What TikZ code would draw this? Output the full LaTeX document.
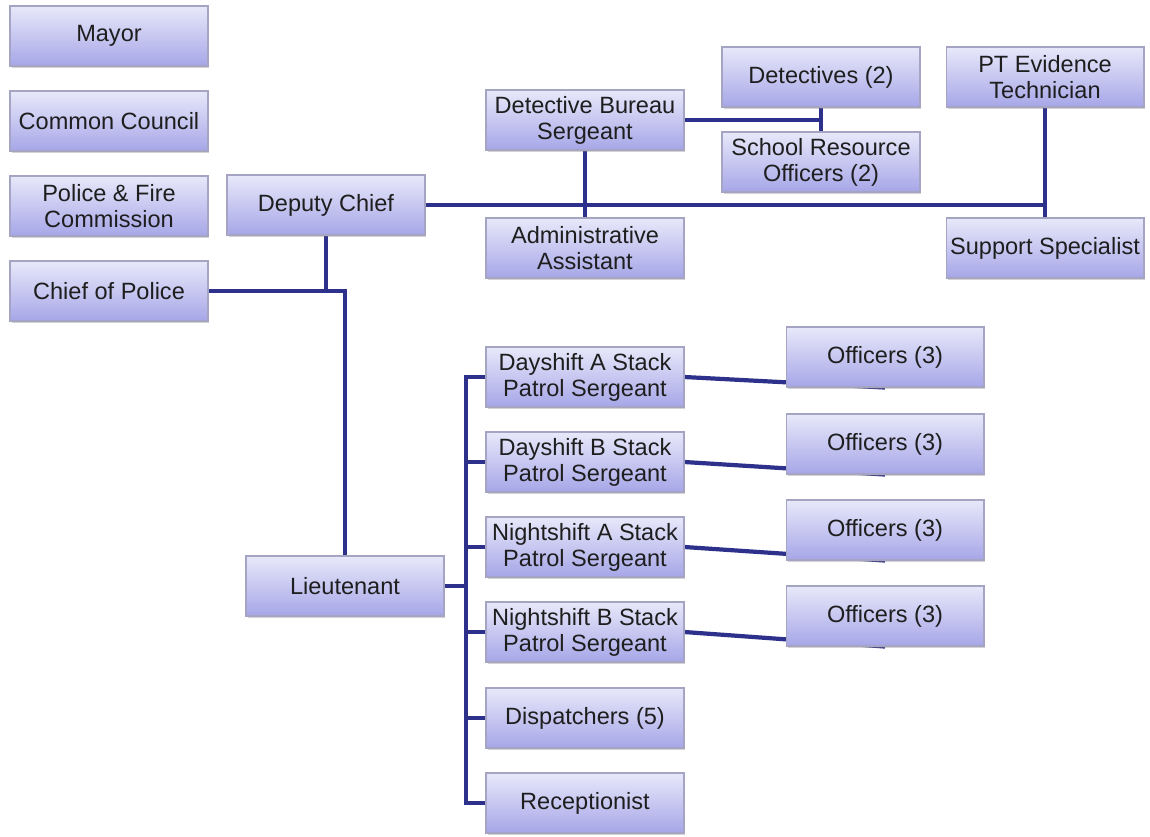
\documentclass[tikz,border=0pt]{standalone}
\usepackage{fontspec}
\setmainfont{Liberation Sans}
\usetikzlibrary{shadows,backgrounds}
\definecolor{linecol}{RGB}{46,49,140}
\definecolor{boxtop}{RGB}{232,232,250}
\definecolor{boxbot}{RGB}{166,166,232}
\definecolor{boxborder}{RGB}{165,165,195}
\definecolor{txt}{RGB}{30,30,30}
\begin{document}
\begin{tikzpicture}[x=0.02cm,y=-0.02cm,
  box/.style={draw=boxborder, line width=0.6pt, top color=boxtop, bottom color=boxbot,
    minimum width=3.96cm, minimum height=1.2cm, inner sep=1pt, align=center,
    text=txt, font=\fontsize{13.4}{14.8}\selectfont,
    drop shadow={shadow xshift=0.03cm, shadow yshift=-0.045cm, opacity=0.35}},
  conn/.style={draw=linecol, line width=2.4pt}]
\useasboundingbox (0,0) rectangle (1150,836);
% left column
\node[box] (mayor) at (109,36) {Mayor};
\node[box] (council) at (109,121) {Common Council};
\node[box] (pfc) at (109,206) {Police \& Fire\\Commission};
\node[box] (chief) at (109,291) {Chief of Police};
% upper
\node[box] (deputy) at (326,205) {Deputy Chief};
\node[box] (dbs) at (585,120) {Detective Bureau\\Sergeant};
\node[box] (admin) at (585,248) {Administrative\\Assistant};
\node[box] (det) at (821,77) {Detectives (2)};
\node[box] (sro) at (821,162) {School Resource\\Officers (2)};
\node[box] (ptev) at (1045,77) {PT Evidence\\Technician};
\node[box] (support) at (1045,248) {Support Specialist};
% lower
\node[box] (lieut) at (345,586) {Lieutenant};
\node[box] (dayA) at (585,377) {Dayshift A Stack\\Patrol Sergeant};
\node[box] (dayB) at (585,462) {Dayshift B Stack\\Patrol Sergeant};
\node[box] (nightA) at (585,547) {Nightshift A Stack\\Patrol Sergeant};
\node[box] (nightB) at (585,632) {Nightshift B Stack\\Patrol Sergeant};
\node[box] (disp) at (585,718) {Dispatchers (5)};
\node[box] (recep) at (585,803) {Receptionist};
\node[box] (offA) at (885,357) {Officers (3)};
\node[box] (offB) at (885,444) {Officers (3)};
\node[box] (offC) at (885,530) {Officers (3)};
\node[box] (offD) at (885,616) {Officers (3)};
\coordinate (bx) at (466,0);
\begin{pgfonlayer}{background}
\draw[conn] (deputy.east) -- (deputy.east -| ptev.south);
\draw[conn] (ptev.south) -- (support.north);
\draw[conn] (dbs.south) -- (admin.north);
\draw[conn] (dbs.east) -- (dbs.east -| det.south);
\draw[conn] (det.south) -- (sro.north);
\draw[conn] (deputy.south) -- (deputy.south |- chief.east);
\draw[conn] (chief.east) -- (chief.east -| lieut.north) -- (lieut.north);
\draw[conn] (lieut.east) -- (lieut.east -| bx);
\draw[conn] (dayA.west) -- (dayA.west -| bx) -- (recep.west -| bx) -- (recep.west);
\draw[conn] (dayB.west -| bx) -- (dayB.west);
\draw[conn] (nightA.west -| bx) -- (nightA.west);
\draw[conn] (nightB.west -| bx) -- (nightB.west);
\draw[conn] (disp.west -| bx) -- (disp.west);
\draw[conn] (dayA.east) -- (offA.south);
\draw[conn] (dayB.east) -- (offB.south);
\draw[conn] (nightA.east) -- (offC.south);
\draw[conn] (nightB.east) -- (offD.south);
\end{pgfonlayer}
\end{tikzpicture}
\end{document}
